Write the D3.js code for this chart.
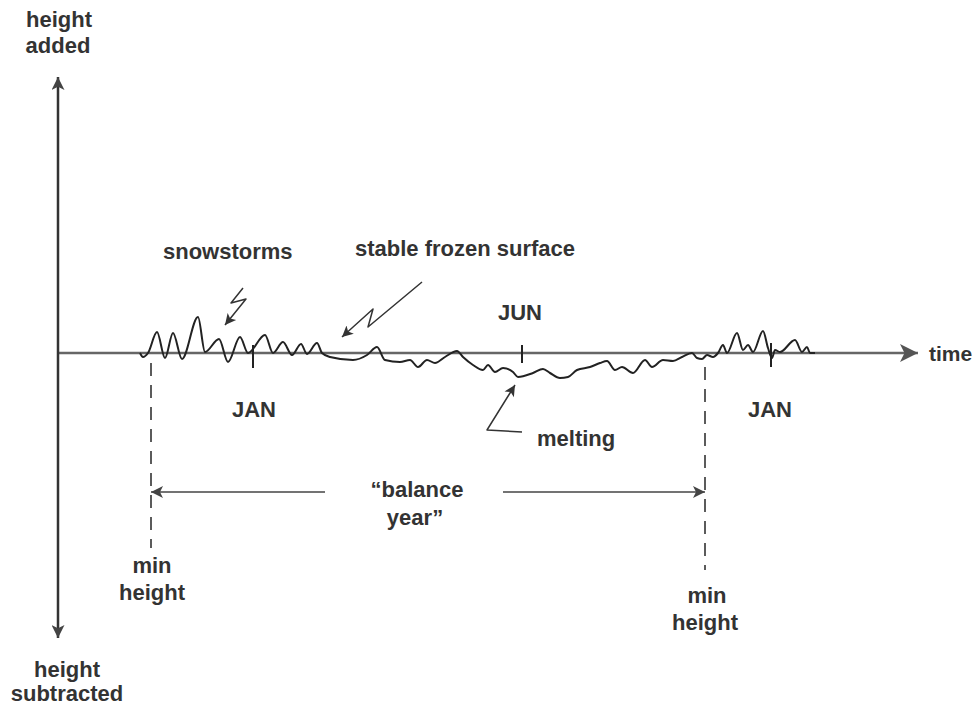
<!DOCTYPE html>
<html><head><meta charset="utf-8">
<script src="https://cdn.jsdelivr.net/npm/d3@7"></script>
<style>body{margin:0;background:#fff}svg text{font-family:"Liberation Sans",Arial,sans-serif;font-weight:bold;fill:#333}</style>
</head><body><svg id="c" width="978" height="708"></svg>
<script>
// abstract time units and height units
const signalT = [82,85,90,99,107,115,124,140,147,161,170,182,190,207,215,225,234,243,249,259,264,272,295,309,319,327,342,352,360,369,377,387,399,405,415,425,430,437,445,455,460,475,485,492,502,510,519,532,542,549,557,564,575,587,594,605,615,624,634,639,644,649,655,660,665,669,679,685,690,695,705,710,714,717,722,737,744,749,752,757];
const signalH = [0,-4,0,21,-5,20,-6,36,1,14,-9,16,0,18,0,11,-2,9,-1,10,0,-4,-7,-2,6,-7,-9,-7,-14,-7,-10,-4,2,-4,-12,-17,-12,-19,-15,-19,-24,-20,-16,-20,-25,-24,-17,-14,-10,-8,-17,-14,-20,-7,-14,-7,-8,-4,0,-5,-6,-2,-4,0,8,0,20,3,8,1,22,5,-5,3,1,13,1,6,0,0];
const monthT = [195, 464, 713];
const monthLabels = ["JAN", "JUN", "JAN"];
const monthTickTop = [8, 8, 10];
const monthTickBottom = [-15, -10, -14];
const minHeightT = [93, 647];
const minHeightTop = [-10, -14];
const minHeightBottom = [-195, -217];
const balanceH = -139;
const balanceLeftFrom = 267, balanceRightFrom = 445;
const snowArrowT = [185, 173, 188, 167], snowArrowH = [65, 50, 54, 28];
const frozenArrowT = [364, 310, 315, 284], frozenArrowH = [71, 26, 44, 16];
const meltArrowT = [464, 429, 457], meltArrowH = [-79, -77, -32];
const axisTMax = 860, axisHTop = 276, axisHBottom = -285;

const svg = d3.select("#c");
const x = d3.scaleLinear().domain([0, 860]).range([58, 918]);
const y = d3.scaleLinear().domain([-285, 276]).range([638, 77]);

const defs = svg.append("defs");
function marker(id, color, w, h) {
  defs.append("marker").attr("id", id).attr("viewBox", "0 0 10 10")
    .attr("refX", 10).attr("refY", 5).attr("markerUnits", "userSpaceOnUse")
    .attr("markerWidth", w).attr("markerHeight", h).attr("orient", "auto")
    .append("path").attr("d", "M0,0 L10,5 L0,10 L2.5,5 Z").attr("fill", color);
}
marker("axisHead", "#555", 26, 18);
marker("vHead", "#444", 22, 13);
marker("smallHead", "#444", 16, 12);
marker("annHead", "#333", 15, 11);

// axes
svg.append("line").attr("x1", x(0)).attr("x2", x(axisTMax)).attr("y1", y(0)).attr("y2", y(0))
  .attr("stroke", "#666").attr("stroke-width", 2.5).attr("marker-end", "url(#axisHead)");
svg.append("line").attr("x1", x(0)).attr("x2", x(0)).attr("y1", y(0)).attr("y2", y(axisHTop))
  .attr("stroke", "#333").attr("stroke-width", 2.5).attr("marker-end", "url(#vHead)");
svg.append("line").attr("x1", x(0)).attr("x2", x(0)).attr("y1", y(0)).attr("y2", y(axisHBottom))
  .attr("stroke", "#333").attr("stroke-width", 2.5).attr("marker-end", "url(#vHead)");

// signal
const pts = signalT.map((t, i) => [t, signalH[i]]);
svg.append("path").datum(pts)
  .attr("d", d3.line().x(d => x(d[0])).y(d => y(d[1])).curve(d3.curveMonotoneX))
  .attr("fill", "none").attr("stroke", "#222").attr("stroke-width", 2).attr("stroke-linejoin", "round");

// month ticks
monthT.forEach((t, i) => {
  svg.append("line").attr("x1", x(t)).attr("x2", x(t)).attr("y1", y(monthTickTop[i])).attr("y2", y(monthTickBottom[i]))
    .attr("stroke", "#222").attr("stroke-width", 2);
});
svg.append("text").attr("x", x(monthT[0]) + 1).attr("y", 417).attr("text-anchor", "middle").attr("font-size", 22).text(monthLabels[0]);
svg.append("text").attr("x", x(monthT[1]) - 2).attr("y", 320).attr("text-anchor", "middle").attr("font-size", 22).text(monthLabels[1]);
svg.append("text").attr("x", x(monthT[2]) - 1).attr("y", 417).attr("text-anchor", "middle").attr("font-size", 22).text(monthLabels[2]);

// min height dashed lines
minHeightT.forEach((t, i) => {
  svg.append("line").attr("x1", x(t)).attr("x2", x(t)).attr("y1", y(minHeightTop[i])).attr("y2", y(minHeightBottom[i]))
    .attr("stroke", "#333").attr("stroke-width", 1.6).attr("stroke-dasharray", "13,9");
});
// balance year arrows
svg.append("line").attr("x1", x(balanceLeftFrom)).attr("x2", x(minHeightT[0])).attr("y1", y(balanceH)).attr("y2", y(balanceH))
  .attr("stroke", "#444").attr("stroke-width", 1.4).attr("marker-end", "url(#smallHead)");
svg.append("line").attr("x1", x(balanceRightFrom)).attr("x2", x(minHeightT[1])).attr("y1", y(balanceH)).attr("y2", y(balanceH))
  .attr("stroke", "#444").attr("stroke-width", 1.4).attr("marker-end", "url(#smallHead)");

// annotation arrows
function ann(ts, hs) {
  const p = ts.map((t, i) => [x(t), y(hs[i])]);
  svg.append("path").attr("d", d3.line()(p)).attr("fill", "none").attr("stroke", "#333")
    .attr("stroke-width", 1.5).attr("stroke-linejoin", "round").attr("marker-end", "url(#annHead)");
}
ann(snowArrowT, snowArrowH);
ann(frozenArrowT, frozenArrowH);
ann(meltArrowT, meltArrowH);

// text labels
function txt(s, px, py, anchor, fs) {
  svg.append("text").attr("x", px).attr("y", py).attr("text-anchor", anchor || "start").attr("font-size", fs || 22).text(s);
}
txt("height", 59, 27, "middle");
txt("added", 58, 53, "middle");
txt("height", 67, 677, "middle");
txt("subtracted", 67, 701, "middle");
txt("time", 929, 361, "start", 21);
txt("snowstorms", 163, 259);
txt("stable frozen surface", 355, 256);
txt("melting", 537, 446);
txt("\u201cbalance", 417, 497, "middle");
txt("year\u201d", 415, 525, "middle");
txt("min", 152, 573, "middle");
txt("height", 152, 600, "middle");
txt("min", 707, 603, "middle");
txt("height", 705, 630, "middle");
</script></body></html>
